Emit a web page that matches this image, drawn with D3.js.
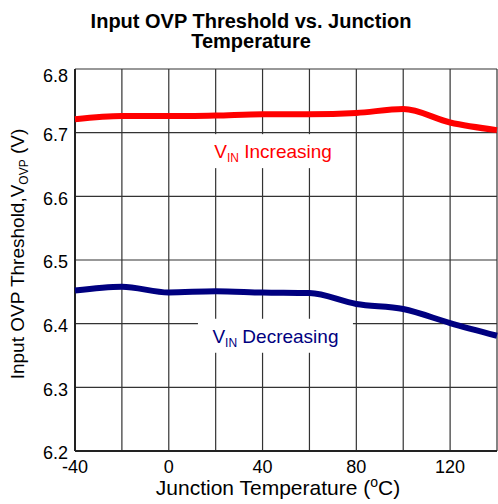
<!DOCTYPE html>
<html>
<head>
<meta charset="utf-8">
<script src="https://cdn.jsdelivr.net/npm/d3@7"></script>
<style>
  body { margin: 0; background: #fff; }
  text { font-family: "Liberation Sans", Arial, sans-serif; }
</style>
</head>
<body>
<div class="chart"></div>
<script>
// data
var temps = [-40, -20, 0, 20, 40, 60, 80, 100, 120, 140];
var vinIncreasing = [6.721, 6.726, 6.726, 6.727, 6.729, 6.729, 6.731, 6.737, 6.716, 6.704];
var vinDecreasing = [6.452, 6.458, 6.449, 6.451, 6.449, 6.448, 6.431, 6.423, 6.401, 6.381];
var xTicks = [-40, 0, 40, 80, 120];
var xGrid = [-40, -20, 0, 20, 40, 60, 80, 100, 120, 140];
var yTicks = [6.2, 6.3, 6.4, 6.5, 6.6, 6.7, 6.8];

var svgWidth = 498;
var svgHeight = 504;

var margin = { top: 69, right: 1, bottom: 53, left: 75 };
var width = svgWidth - margin.left - margin.right;
var height = svgHeight - margin.top - margin.bottom;

var svg = d3.select(".chart").append("svg")
  .attr("width", svgWidth)
  .attr("height", svgHeight);

var chartGroup = svg.append("g")
  .attr("transform", `translate(${margin.left}, ${margin.top})`);

var x = d3.scaleLinear().domain([-40, 140]).range([0, width]);
var y = d3.scaleLinear().domain([6.2, 6.8]).range([height, 0]);

// grid
chartGroup.append("g").selectAll("line")
  .data(xGrid)
  .enter().append("line")
  .attr("x1", d => x(d)).attr("x2", d => x(d))
  .attr("y1", 0).attr("y2", height)
  .attr("stroke", "#333").attr("stroke-width", 1.2);

chartGroup.append("g").selectAll("line")
  .data(yTicks)
  .enter().append("line")
  .attr("x1", 0).attr("x2", width)
  .attr("y1", d => y(d)).attr("y2", d => y(d))
  .attr("stroke", "#333").attr("stroke-width", 1.2);

// axis frame lines
chartGroup.append("line")
  .attr("x1", 0).attr("x2", 0).attr("y1", 0).attr("y2", height)
  .attr("stroke", "#222").attr("stroke-width", 2);
chartGroup.append("line")
  .attr("x1", 0).attr("x2", width).attr("y1", height).attr("y2", height)
  .attr("stroke", "#222").attr("stroke-width", 2);

// tick labels (top one sits a bit lower, as in the original)
chartGroup.append("g").selectAll("text")
  .data(yTicks)
  .enter().append("text")
  .attr("x", -7)
  .attr("y", d => y(d) + (d === 6.8 ? 7 : 2))
  .attr("dy", "0.35em")
  .attr("text-anchor", "end")
  .attr("font-size", 18)
  .text(d => d3.format(".1f")(d));

chartGroup.append("g").selectAll("text")
  .data(xTicks)
  .enter().append("text")
  .attr("x", d => x(d))
  .attr("y", height + 22)
  .attr("text-anchor", "middle")
  .attr("font-size", 18)
  .text(d => d);

// series labels with white boxes behind (under the curves)
function seriesLabel(t, v, color, rest, boxW) {
  var cx = x(t), cy = y(v);
  chartGroup.append("rect")
    .attr("x", cx - boxW / 2).attr("y", cy - 24)
    .attr("width", boxW).attr("height", 34)
    .attr("fill", "#fff");
  var txt = chartGroup.append("text")
    .attr("x", cx).attr("y", cy)
    .attr("text-anchor", "middle")
    .attr("font-size", 19)
    .attr("fill", color);
  txt.append("tspan").text("V");
  txt.append("tspan").attr("font-size", 12).attr("dy", 4).text("IN");
  txt.append("tspan").attr("dy", -4).text(" " + rest);
}
seriesLabel(44.5, 6.66, "#ff0000", "Increasing", 150);
seriesLabel(45.5, 6.370, "#000080", "Decreasing", 155);

// lines
var line = d3.line()
  .x(d => x(d[0]))
  .y(d => y(d[1]))
  .curve(d3.curveMonotoneX);

chartGroup.append("path")
  .datum(temps.map((t, i) => [t, vinIncreasing[i]]))
  .attr("fill", "none")
  .attr("stroke", "#ff0000")
  .attr("stroke-width", 6)
  .attr("d", line);

chartGroup.append("path")
  .datum(temps.map((t, i) => [t, vinDecreasing[i]]))
  .attr("fill", "none")
  .attr("stroke", "#000080")
  .attr("stroke-width", 6)
  .attr("d", line);

// title
svg.append("text")
  .attr("x", 251).attr("y", 28)
  .attr("text-anchor", "middle")
  .attr("font-size", 20)
  .attr("font-weight", "bold")
  .text("Input OVP Threshold vs. Junction");
svg.append("text")
  .attr("x", 251).attr("y", 48)
  .attr("text-anchor", "middle")
  .attr("font-size", 20)
  .attr("font-weight", "bold")
  .text("Temperature");

// x axis title
var xt = svg.append("text")
  .attr("x", 278)
  .attr("y", 495)
  .attr("text-anchor", "middle")
  .attr("font-size", 21);
xt.append("tspan").text("Junction Temperature (");
xt.append("tspan").attr("font-size", 14).attr("dy", -8).text("o");
xt.append("tspan").attr("dy", 8).text("C)");

// y axis title
var yt = svg.append("text")
  .attr("transform", "translate(24, 254) rotate(-90)")
  .attr("text-anchor", "middle")
  .attr("font-size", 19);
yt.append("tspan").text("Input OVP Threshold,V");
yt.append("tspan").attr("font-size", 12).attr("dy", 4).text("OVP");
yt.append("tspan").attr("dy", -4).text(" (V)");
</script>
</body>
</html>
